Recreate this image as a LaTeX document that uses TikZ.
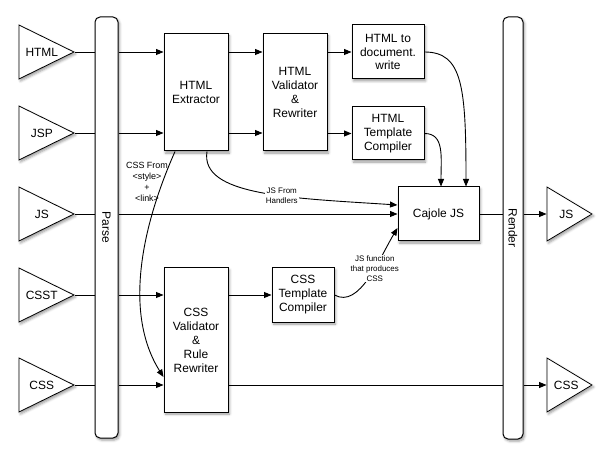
\documentclass[tikz,border=0pt]{standalone}
\usepackage{fontspec}
\setmainfont{Liberation Sans}
\usetikzlibrary{shapes.geometric,arrows.meta,shadows.blur}

\begin{document}
\begin{tikzpicture}
  [x=1bp,y=-1bp,
   every node/.style={font=\fontsize{12}{14}\selectfont,align=center},
   shade/.style={blur shadow={shadow xshift=1.5bp,shadow yshift=-2bp,shadow blur radius=2.5bp,shadow opacity=40}},
   box/.style={draw,fill=white,line width=1bp,inner sep=0pt,shade},
   bar/.style={box,rounded corners=5bp},
   tri/.style={draw,fill=white,isosceles triangle,isosceles triangle stretches,inner sep=0pt,line width=0.8bp,shade,anchor=apex},
   intri/.style={tri,minimum width=54bp,minimum height=55bp,label={[xshift=6bp]center:#1}},
   outtri/.style={tri,minimum width=54bp,minimum height=45bp,label={[xshift=4bp]center:#1}},
   note/.style={font=\fontsize{8}{10}\selectfont,fill=white,inner sep=1bp},
   flow/.style={line width=0.9bp,-{Triangle[length=7.5bp,width=6bp]}},
   wire/.style={line width=0.9bp}]
  \useasboundingbox (0,0) rectangle (613,463);

  \node[intri=HTML] (inhtml) at (75,52) {};
  \node[intri=JSP] (injsp) at (75,133) {};
  \node[intri=JS] (injs) at (75,214) {};
  \node[intri=CSST] (incsst) at (75,295) {};
  \node[intri=CSS] (incss) at (75,385) {};
  \node[outtri=JS] (outjs) at (593,214) {};
  \node[outtri=CSS] (outcss) at (593,385) {};

  \node[bar,minimum width=23bp,minimum height=421bp] (parse) at (106.5,227.5) {\rotatebox{-90}{Parse}};
  \node[bar,minimum width=20bp,minimum height=422bp] (render) at (513,228) {\rotatebox{-90}{Render}};

  \node[box,minimum width=64bp,minimum height=117bp] (extract) at (196,92.5) {HTML\\Extractor};
  \node[box,minimum width=64bp,minimum height=117bp] (htmlval) at (295,92.5) {HTML\\Validator\\\&\\Rewriter};
  \node[box,minimum width=72bp,minimum height=54bp] (docwrite) at (388,52) {HTML to\\document.\\write};
  \node[box,minimum width=72bp,minimum height=53bp] (htmltmpl) at (388,133.5) {HTML\\Template\\Compiler};
  \node[box,minimum width=81bp,minimum height=54bp] (cajole) at (438.5,214) {Cajole JS};
  \node[box,minimum width=64bp,minimum height=144bp] (cssval) at (196,340) {CSS\\Validator\\\&\\Rule\\Rewriter};
  \node[box,minimum width=62bp,minimum height=54bp] (csstmpl) at (303,295) {CSS\\Template\\Compiler};

  \foreach \t in {inhtml,injsp,injs,incsst,incss}
    \draw[wire] (\t.apex) -- (parse.west |- \t.apex);
  \foreach \t/\b in {inhtml/extract,injsp/extract,injs/cajole,incsst/cssval,incss/cssval}
    \draw[flow] (parse.east |- \t.apex) -- (\b.west |- \t.apex);
  \foreach \t in {inhtml,injsp}
    \draw[flow] (extract.east |- \t.apex) -- (htmlval.west |- \t.apex);
  \foreach \b in {docwrite,htmltmpl}
    \draw[flow] (htmlval.east |- \b.west) -- (\b.west);
  \draw[flow] (cssval.east |- csstmpl.west) -- (csstmpl.west);

  \draw[wire] (cssval.east |- incss.apex) -- (render.west |- incss.apex);
  \draw[flow] (render.east |- incss.apex) -- (outcss.west);
  \draw[wire] (cajole.east) -- (render.west |- cajole.east);
  \draw[flow] (render.east |- cajole.east) -- (outjs.west);

  \draw[flow] (docwrite.east) .. controls +(38,0) and +(0,-100) .. ([xshift=27.5bp]cajole.north);
  \draw[flow] (htmltmpl.east) .. controls +(20,0) and +(0,-30) .. ([xshift=2.5bp]cajole.north);
  \draw[flow] ([xshift=11bp]extract.south) .. controls +(-7,44) and +(-108,-7) .. ([yshift=9bp]cajole.west)
    node[note,pos=0.6] (jshandlers) {JS From\\Handlers};
  \draw[flow] ([xshift=-21bp]extract.south) .. controls +(-35,79) and +(-39,-62) .. ([yshift=-37bp]cssval.west);
  \node[font=\fontsize{9}{11}\selectfont] (cssfrom) at (147,182) {CSS From\\<style>\\+\\<link>};
  \draw[flow] (csstmpl.east) .. controls +(25,14) and +(-18,30) .. ([yshift=-14bp]cajole.west)
    node[note,pos=0.6] (jsfunction) {JS function\\that produces\\CSS};
\end{tikzpicture}
\end{document}
